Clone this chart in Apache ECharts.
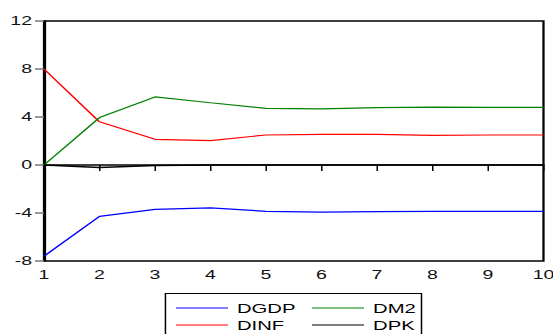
<!DOCTYPE html>
<html>
<head>
<meta charset="utf-8">
<script src="https://cdn.jsdelivr.net/npm/echarts@6/dist/echarts.min.js"></script>
<style>
  html, body { margin: 0; padding: 0; background: #fff; overflow: hidden; }
  /* The chart is laid out narrower and widened 1.5x, which gives the wide lettering */
  #chart { width: 368.67px; height: 334px; transform: scaleX(1.5); transform-origin: 0 0; }
</style>
</head>
<body>
<div id="chart"></div>
<script>
// Response periods
const periods = [1, 2, 3, 4, 5, 6, 7, 8, 9, 10];

// Responses of each variable
const dgdp = [-7.6, -4.28, -3.7, -3.58, -3.86, -3.92, -3.88, -3.87, -3.87, -3.87];
const dm2  = [0.0, 3.95, 5.67, 5.19, 4.72, 4.67, 4.78, 4.83, 4.81, 4.8];
const dinf = [8.0, 3.6, 2.14, 2.03, 2.5, 2.55, 2.55, 2.47, 2.5, 2.5];
const dpk  = [0.0, -0.2, -0.05, 0.0, 0.0, 0.0, 0.0, 0.0, 0.0, 0.0];

// Y axis ticks
const yMin = -8, yMax = 12, yStep = 4;

const pairs = (vals) => periods.map((p, i) => [p, vals[i]]);

const font = 'Liberation Sans, Arial, sans-serif';

const chart = echarts.init(document.getElementById('chart'), null, { renderer: 'svg' });

const lineSeries = (name, vals, color, width) => ({
  name: name,
  type: 'line',
  data: pairs(vals),
  symbol: 'none',
  lineStyle: { color: color, width: width },
  itemStyle: { color: color },
  animation: false
});

const legendBase = {
  orient: 'vertical', top: 301,
  itemWidth: 34.7, itemHeight: 8, itemGap: 3,
  icon: 'path://M0,0 L52,0 L52,1.2 L0,1.2 Z',
  textStyle: { fontFamily: font, fontSize: 13.5, color: '#000', padding: [0, 0, 0, 1] },
  padding: 0
};

chart.setOption({
  animation: false,
  grid: {
    left: 29.33, right: 6.67, top: 21, bottom: 73,
    outerBoundsMode: 'none',
    show: true, borderColor: '#000', borderWidth: 1.5, backgroundColor: 'transparent'
  },
  xAxis: {
    type: 'value', min: 1, max: 10, interval: 1,
    axisLine: { show: true, lineStyle: { color: '#000', width: 1.5 } },
    axisTick: { show: true, inside: false, length: 6, lineStyle: { color: '#000', width: 1 } },
    axisLabel: { color: '#111', fontFamily: font, fontSize: 13, margin: 7 },
    splitLine: { show: false }
  },
  yAxis: {
    type: 'value', min: yMin, max: yMax, interval: yStep,
    axisLine: { show: true, onZero: false, lineStyle: { color: '#000', width: 1.5 } },
    axisTick: { show: true, length: 6, lineStyle: { color: '#777', width: 1.5 } },
    axisLabel: { color: '#111', fontFamily: font, fontSize: 13, margin: 8 },
    splitLine: { show: false }
  },
  legend: [
    Object.assign({}, legendBase, { data: ['DGDP', 'DINF'], left: 117.3 }),
    Object.assign({}, legendBase, { data: ['DM2', 'DPK'], left: 208 })
  ],
  graphic: [
    {
      type: 'rect',
      shape: { x: 110.3, y: 293.5, width: 170.7, height: 50 },
      style: { fill: 'none', stroke: '#000', lineWidth: 1 },
      silent: true
    }
  ],
  series: [
    lineSeries('DGDP', dgdp, '#0000ff', 1.2),
    lineSeries('DINF', dinf, '#ff0000', 1.2),
    lineSeries('DM2', dm2, '#008000', 1.2),
    lineSeries('DPK', dpk, '#000000', 1.5)
  ]
});
</script>
</body>
</html>
